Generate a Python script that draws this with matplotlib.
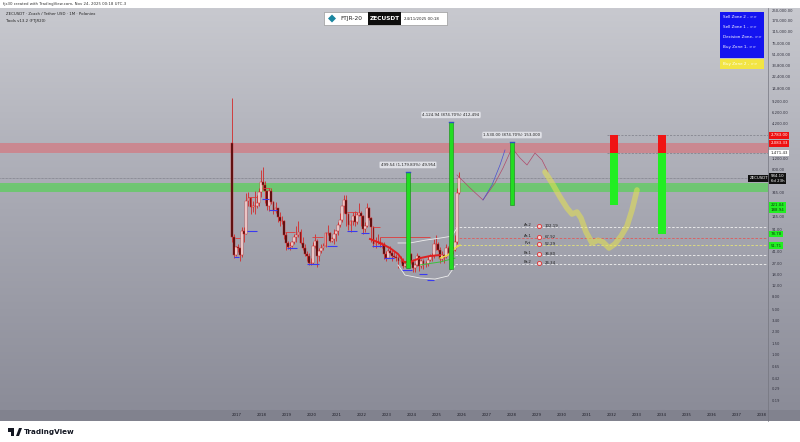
import numpy as np
import pandas as pd
import matplotlib
matplotlib.use("Agg")
import matplotlib.pyplot as plt
from matplotlib.patches import Rectangle, Polygon
from matplotlib.colors import LinearSegmentedColormap

W, H = 800, 442

# monthly candles ZECUSDT (Poloniex), Oct 2016 .. Nov 2025
first_open = 2083.33
close = [70, 37, 49,
         47, 37, 87, 80, 260, 290, 210, 215, 220, 245, 360, 520,
         460, 370, 215, 370, 250, 180, 200, 145, 125, 125, 75, 56,
         50, 52, 59, 70, 75, 85, 56, 48, 38, 36, 28, 28,
         52, 62, 35, 42, 47, 52, 82, 82, 62, 66, 80, 87,
         110, 130, 215, 270, 160, 110, 125, 150, 120, 155, 170, 150,
         95, 105, 200, 140, 100, 55, 60, 60, 55, 55, 38, 33,
         43, 40, 35, 34, 33, 30, 30, 25, 27, 30, 38, 29,
         23, 26, 35, 25, 30, 27, 27, 31, 36, 35, 55, 55,
         45, 32, 37, 34, 48, 40, 43, 45, 60, 350, 584.10]
high = [10600, 78, 52,
        54, 48, 100, 100, 340, 360, 300, 260, 370, 320, 420, 780,
        900, 530, 375, 420, 420, 255, 250, 200, 175, 150, 130, 85,
        62, 58, 62, 78, 105, 125, 95, 70, 55, 42, 40, 33,
        58, 80, 66, 48, 55, 56, 86, 108, 84, 70, 95, 90,
        120, 170, 220, 325, 320, 170, 130, 175, 180, 175, 245, 180,
        155, 120, 240, 210, 145, 105, 70, 78, 70, 60, 60, 42,
        48, 52, 44, 42, 38, 35, 35, 33, 28, 30, 42, 40,
        32, 28, 40, 36, 32, 32, 30, 35, 38, 40, 65, 75,
        60, 50, 42, 38, 55, 52, 48, 50, 75, 410, 750]
low = [58, 33, 36,
       41, 30, 34, 60, 78, 220, 165, 175, 160, 205, 220, 300,
       380, 240, 185, 180, 230, 160, 170, 120, 105, 115, 65, 45,
       46, 45, 50, 55, 60, 70, 55, 45, 36, 30, 26, 26,
       27, 48, 24, 30, 40, 44, 50, 75, 58, 58, 55, 62,
       75, 100, 120, 170, 105, 90, 85, 110, 105, 115, 150, 105,
       80, 85, 100, 130, 60, 50, 48, 55, 50, 48, 32, 30,
       33, 38, 30, 33, 30, 23, 28, 23, 24, 25, 29, 27,
       20, 20, 25, 21, 23, 22, 24, 25, 30, 30, 33, 45,
       42, 28, 30, 28, 33, 38, 36, 38, 42, 55, 330]

# pivot style markers (start year, end year, price)
blue_start = [2016.88, 2017.4, 2018.0, 2018.3, 2019.0, 2019.8, 2020.6, 2021.4, 2021.95, 2022.4, 2022.9, 2023.6, 2024.3, 2024.6]
blue_end = [2017.1, 2017.8, 2018.3, 2018.6, 2019.4, 2020.3, 2021.0, 2021.8, 2022.3, 2022.8, 2023.3, 2024.0, 2024.6, 2024.9]
blue_val = [34, 88, 278, 187, 47, 26.7, 51, 88, 81, 51, 33, 21.5, 18.6, 15]
red_start = [2016.92, 2017.44, 2018.0, 2018.92, 2020.0, 2021.4, 2022.44, 2022.72]
red_end = [2017.12, 2017.8, 2018.32, 2019.32, 2020.44, 2021.8, 2022.72, 2024.72]
red_val = [68, 300, 410, 85, 70, 175, 101, 70]

# indicator lines around 2022-2025
ma_x = [2022.32, 2022.72, 2023.12, 2023.44, 2023.68, 2023.92, 2024.32, 2024.72, 2025.12]
ma_y = [65.8, 57, 47.5, 38.3, 28.7, 28.7, 33, 35.6, 36.9]
env_up_x = [2023.44, 2023.92, 2024.52, 2025.12, 2025.6, 2025.8]
env_up_y = [57, 57, 63, 68, 73, 98]
env_lo_x = [2023.44, 2023.72, 2024.32, 2024.92, 2025.44, 2025.72]
env_lo_y = [25.8, 17.9, 16.1, 15.5, 17.3, 24.8]
yel_x = [2025.12, 2025.44, 2025.72, 2025.92]
yel_y = [33, 36.9, 47.5, 52.9]
grn_x = [2024.32, 2025.12, 2025.72]
grn_y = [25.8, 28.7, 33]

# measured moves
move_x = [2023.84, 2025.56, 2028.0]
move_lo = [23, 22, 225]
move_hi = [740, 4500, 2170]
move_txt = ["499.54 (1,179.83%) 49,954", "4,124.94 (874.70%) 412,494", "1,530.00 (874.70%) 153,000"]

# projected paths
proj_x = [2025.8, 2026.32, 2026.84, 2027.32, 2027.64, 2028.0, 2028.32, 2028.6, 2028.92, 2029.2, 2029.44]
proj_y = [663, 415, 269, 497, 853, 1755, 1224, 951, 1466, 1138, 738]
proj2_x = [2026.84, 2027.2, 2027.52, 2027.72]
proj2_y = [269, 462, 951, 1634]
path_x = [2029.32, 2029.6, 2029.92, 2030.2, 2030.4, 2030.6, 2030.76, 2030.96, 2031.2, 2031.44,
          2031.64, 2031.88, 2032.12, 2032.36, 2032.6, 2032.8, 2033.0]
path_y = [738, 497, 300, 201, 162, 174, 140, 85, 57, 63, 59, 47.5, 55, 73, 105, 187, 386]

# zone columns
zone_x = [2032.08, 2034.0]
zone_red_top = [2783.0, 2783.0]
zone_red_bot = [1471.43, 1471.43]
zone_grn_bot = [221.04, 78.78]

# horizontal zones
sell_band = (1471.43, 2083.33)
buy_band = (355, 490)
last_price = 584.10

# levels
lvl_names = ["Ar-2", "Ar-1", "Pvt", "Br-1", "Br-2"]
lvl_vals = [102.19, 67.92, 52.29, 36.80, 26.34]
lvl_cols = ["#f2f2f2", "#e05a5a", "#e4e27a", "#f2f2f2", "#f2f2f2"]

price_ticks = [250000, 170000, 115000, 75000, 51000, 33800, 22400, 14800, 9200, 6200, 4200,
               1200, 800, 345, 145, 91, 41, 27, 18, 12, 8, 5, 3.4, 2.3, 1.5, 1.0, 0.65, 0.42, 0.29, 0.19]
years = list(range(2017, 2039))

legend_txt = ["Sell Zone 2 - >>", "Sell Zone 1 - >>", "Decision Zone- >>", "Buy Zone 1- >>"]


def px(x0, y0, x1, y1):
    return [x0 / W, 1 - y1 / H, (x1 - x0) / W, (y1 - y0) / H]


fig = plt.figure(figsize=(W / 100, H / 100), dpi=100, facecolor="white")

# background gradient
bg = fig.add_axes(px(0, 8, 800, 410))
grad = np.linspace(0, 1, 256).reshape(-1, 1)
cmap = LinearSegmentedColormap.from_list("bg", ["#c8c9cf", "#a7a8b2", "#8b8c98"])
bg.imshow(grad, aspect="auto", cmap=cmap, extent=[0, 1, 0, 1])
bg.set_axis_off()

ylo = 10 ** ((355 - 410) / 63.8)
yhi = 10 ** ((355 - 8) / 63.8)
ax = fig.add_axes(px(0, 8, 768, 410))
ax.set_facecolor("none")
ax.set_yscale("log")
ax.set_xlim(2017 - 237 / 25, 2017 + (768 - 237) / 25)
ax.set_ylim(ylo, yhi)
ax.set_axis_off()

# zones
ax.axhspan(*sell_band, color="#dc6d74", alpha=0.6, lw=0, zorder=1)
ax.axhspan(*buy_band, color="#5ccf5c", alpha=0.75, lw=0, zorder=1)
ax.axhline(last_price, color="#6e6f7a", lw=0.5, ls=(0, (1, 1)), zorder=2)

# candles
dates = pd.date_range("2016-10-01", periods=len(close), freq="MS")
cx = dates.year + (dates.month - 1) / 12 + 1 / 24
opens = [first_open] + close[:-1]
for xi, o, h, l, c in zip(cx, opens, high, low, close):
    ax.vlines(xi, l, h, color="#d42a2a", lw=0.6, zorder=3)
    fc = "#f6f6f6" if c >= o else "#3e0a0a"
    ax.bar(xi, abs(c - o), bottom=min(o, c), width=0.075, color=fc,
           edgecolor="#d42a2a", lw=0.35, zorder=4)

ax.hlines(blue_val, blue_start, blue_end, color="#3a3af0", lw=0.8, zorder=5)
ax.hlines(red_val, red_start, red_end, color="#e03a3a", lw=0.6, zorder=5)

ax.plot(ma_x, ma_y, color="#e02020", lw=1.4, zorder=5)
ax.plot(env_up_x, env_up_y, color="#eeeeee", lw=0.6, zorder=5)
ax.plot(env_lo_x, env_lo_y, color="#eeeeee", lw=0.6, zorder=5)
ax.plot(yel_x, yel_y, color="#e8e040", lw=1.0, zorder=5)
ax.plot(grn_x, grn_y, color="#3cbf3c", lw=0.7, zorder=5)

# levels
for name, v, col in zip(lvl_names, lvl_vals, lvl_cols):
    ax.hlines(v, 2025.72, ax.get_xlim()[1], color=col, lw=0.6, ls=(0, (3, 2)), zorder=2)
    ax.text(2028.64, v, name, fontsize=2.8, color="#222222", ha="center", va="bottom", zorder=6)
    ax.plot(2029.08, v * 1.04, "o", ms=3, mfc="#f3d6d6", mec="#e03030", mew=0.6, zorder=6)
    ax.text(2029.32, v * 1.04, f"{v:.2f}", fontsize=2.8, color="#222222", va="center", zorder=6)

# measured moves
for xi, lo, hi, t in zip(move_x, move_lo, move_hi, move_txt):
    ax.bar(xi, hi - lo, bottom=lo, width=0.13, color="#22dd22", edgecolor="#118811", lw=0.4, zorder=6)
    ax.plot([xi - 0.07, xi + 0.07], [hi, hi], color="#3050c0", lw=1.0, zorder=7)
    ax.text(xi, hi * 1.2, t, fontsize=2.9, color="#222222", ha="center", va="bottom", zorder=8,
            bbox=dict(boxstyle="round,pad=0.35", fc="#dfe0e6", ec="#b8b9c2", lw=0.3))

# projections
ax.plot(proj_x, proj_y, color="#b04a6a", lw=0.5, zorder=5)
ax.plot(proj2_x, proj2_y, color="#4a50d0", lw=0.5, zorder=5)
ax.plot(path_x, path_y, color="#e6e34e", lw=4.0, alpha=0.55, solid_capstyle="round", zorder=5)

for xi, gb, rt, rb in zip(zone_x, zone_grn_bot, zone_red_top, zone_red_bot):
    ax.bar(xi, rt - rb, bottom=rb, width=0.32, color="#f01414", lw=0, zorder=6)
    ax.bar(xi, rb - gb, bottom=gb, width=0.32, color="#22ee22", lw=0, zorder=6)
ax.hlines([2783.0, 1471.43], 2031.8, ax.get_xlim()[1], color="#7a7b86", lw=0.5, ls=(0, (3, 2)), zorder=2)

ax.text(1.0, last_price, "ZECUSDT", transform=ax.get_yaxis_transform(), fontsize=2.8,
        color="white", ha="right", va="center", zorder=9,
        bbox=dict(boxstyle="square,pad=0.35", fc="#111111", ec="none"))

# price axis
pa = fig.add_axes(px(768, 8, 800, 410))
pa.set_facecolor("none")
pa.set_yscale("log")
pa.set_ylim(ylo, yhi)
pa.set_xlim(0, 1)
pa.set_axis_off()
ytr = pa.get_yaxis_transform()
for v in price_ticks:
    pa.text(0.12, v, f"{v:,.2f}", transform=ytr, fontsize=2.7, color="#333340", va="center")

tags = [(2783.0, "2,783.00", "#ee1111", "white"),
        (2083.33, "2,083.33", "#ee1111", "white"),
        (1471.43, "1,471.43", "#ffffff", "#222222"),
        (221.04, "221.04", "#22ee22", "#113311"),
        (188.94, "188.94", "#22ee22", "#113311"),
        (78.78, "78.78", "#22ee22", "#113311"),
        (51.71, "51.71", "#22ee22", "#113311")]
for v, t, fc, tc in tags:
    pa.text(0.08, v, t, transform=ytr, fontsize=2.8, color=tc, va="center",
            bbox=dict(boxstyle="square,pad=0.35", fc=fc, ec="none"))
pa.text(0.08, last_price, "584.10\n6d 23h", transform=ytr, fontsize=2.8, color="white",
        va="center", linespacing=1.1, bbox=dict(boxstyle="square,pad=0.35", fc="#111111", ec="none"))

# time axis
ta = fig.add_axes(px(0, 410, 800, 421))
ta.set_facecolor("#81828e")
ta.set_xlim(2017 - 237 / 25, 2017 + (800 - 237) / 25)
ta.set_ylim(0, 1)
ta.set_xticks([])
ta.set_yticks([])
for s in ta.spines.values():
    s.set_visible(False)
for yr in years:
    ta.text(yr, 0.5, str(yr), fontsize=2.8, color="#1e1e28", ha="center", va="center")

# chrome in pixel coordinates
ui = fig.add_axes([0, 0, 1, 1])
ui.set_xlim(0, W)
ui.set_ylim(H, 0)
ui.set_axis_off()
ui.plot([768, 768], [8, 421], color="#74757f", lw=0.5)

ui.text(3, 4, "fjs30 created with TradingView.com, Nov 24, 2025 00:18 UTC-3",
        fontsize=2.8, color="#333333", va="center")
ui.text(6, 14, "ZECUSDT · Zcash / Tether USD · 1M · Poloniex", fontsize=2.8, color="#222222", va="center")
ui.text(6, 21, "Tools v13.2 (FTJR20)", fontsize=2.8, color="#222222", va="center")

# header badge
ui.add_patch(Rectangle((324, 12), 123, 13, fc="white", ec="#888888", lw=0.4))
ui.add_patch(Polygon([(332, 14.5), (336, 18.5), (332, 22.5), (328, 18.5)], closed=True, fc="#1a86a0", ec="none"))
ui.text(340, 18.5, "FTJR-20", fontsize=4.2, color="#222222", va="center")
ui.add_patch(Rectangle((368, 12), 33, 13, fc="#0d0d0d", ec="none"))
ui.text(384.5, 18.5, "ZECUSDT", fontsize=4.2, color="white", weight="bold", ha="center", va="center")
ui.text(404, 18.5, "24/11/2025 00:18", fontsize=2.8, color="#222222", va="center")

# legend top-right
ui.add_patch(Rectangle((720, 12), 44, 46, fc="#1414f0", ec="none"))
ui.add_patch(Rectangle((720, 59), 44, 10, fc="#f2e544", ec="none"))
for i, t in enumerate(legend_txt):
    ui.text(723, 17 + i * 10, t, fontsize=3.0, color="white", va="center")
ui.text(723, 64.5, "Buy Zone 2 - >>", fontsize=3.0, color="white", va="center")

# tradingview logo
ui.add_patch(Rectangle((8, 428), 6, 4, fc="#131722", ec="none"))
ui.add_patch(Rectangle((11, 428), 2.5, 8, fc="#131722", ec="none"))
ui.add_patch(Polygon([(16, 436), (19, 428), (22, 428), (19, 436)], closed=True, fc="#131722", ec="none"))
ui.text(24, 432, "TradingView", fontsize=5.2, color="#131722", weight="bold", va="center")

fig.savefig("out.png", dpi=100, facecolor="white")
